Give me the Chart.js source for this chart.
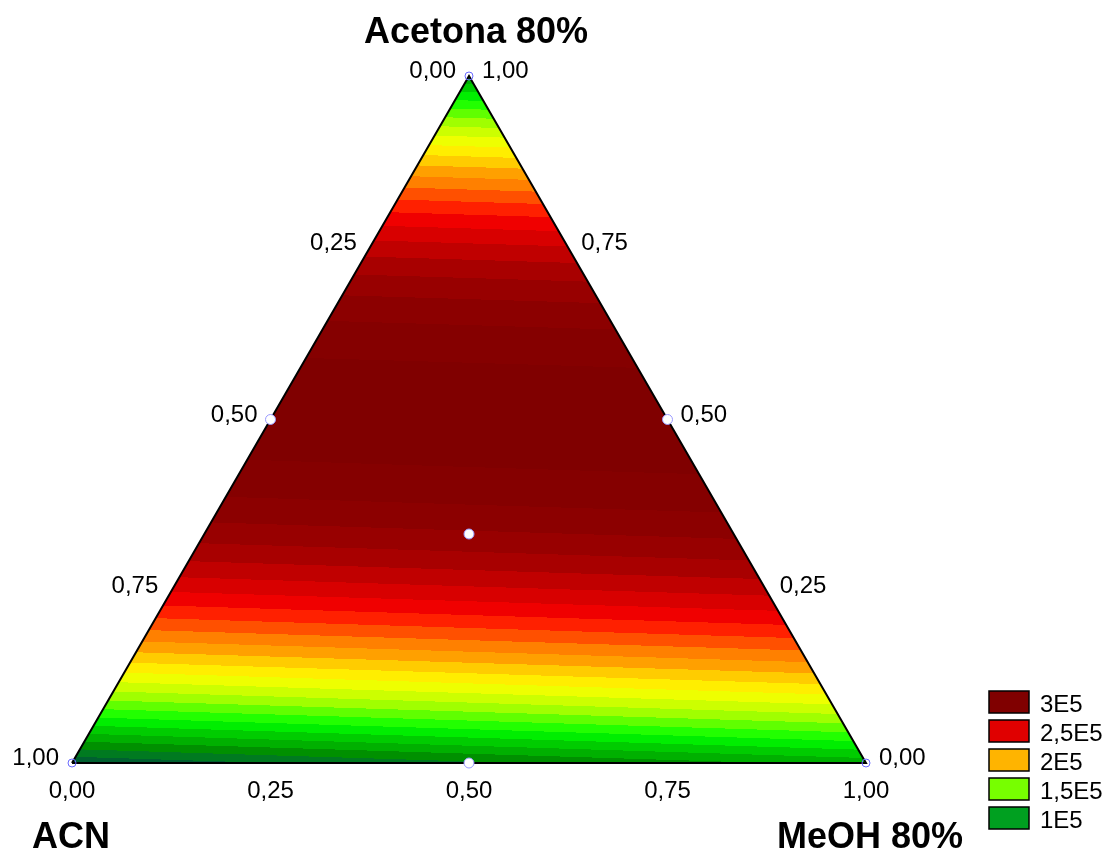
<!DOCTYPE html>
<html>
<head>
<meta charset="utf-8">
<script src="https://cdn.jsdelivr.net/npm/chart.js@4.4.1/dist/chart.umd.min.js"></script>
<style>
  html, body { margin: 0; padding: 0; background: #ffffff; }
  #wrap { width: 1109px; height: 852px; position: relative; }
</style>
</head>
<body>
<div id="wrap"><canvas id="chart" width="1109" height="852"></canvas></div>
<script>
// Mixture components
const titleTop = 'Acetona 80%';
const titleLeft = 'ACN';
const titleRight = 'MeOH 80%';

// Simplex-centroid design: proportion of each component in every run
// (runs: Acetona, ACN, MeOH, Acetona/ACN, Acetona/MeOH, ACN/MeOH, centroid)
const runAcetona = [1, 0, 0, 0.5, 0.5, 0, 1 / 3];
const runACN     = [0, 1, 0, 0.5, 0, 0.5, 1 / 3];
const runMeOH    = [0, 0, 1, 0, 0.5, 0.5, 1 / 3];
// Response measured for each run
const runResponse = [100000, 71600, 103800, 314800, 315100, 88000, 288500];

// Contour bands: lower bound of each band and its fill
const contourLevels = [
  50000, 60000, 70000, 80000, 90000, 100000, 110000, 120000, 130000, 140000,
  150000, 160000, 170000, 180000, 190000, 200000, 210000, 220000, 230000, 240000,
  250000, 260000, 270000, 280000, 290000, 300000, 310000, 320000
];
const contourColors = [
  '#004d38', '#005535', '#006030', '#007a20', '#009000', '#00b000', '#00cc00', '#00ee00', '#22ff00', '#60ff00',
  '#a0ff00', '#ccff00', '#eeff00', '#ffee00', '#ffcc00', '#ffa000', '#ff8000', '#ff5000', '#ff2000', '#f00000',
  '#d80000', '#c00000', '#a80000', '#980000', '#8c0000', '#850000', '#800000', '#7a0000'
];

// Axis ticks (proportion of each component)
const tickValues = [0, 0.25, 0.5, 0.75, 1];

// Legend
const legendLabels = ['3E5', '2,5E5', '2E5', '1,5E5', '1E5'];
const legendColors = ['#800000', '#e00000', '#ffb400', '#77ff00', '#00a020'];

const FONT = '"Liberation Sans", Arial, sans-serif';
const H = Math.sqrt(3) / 2;

// Special cubic Scheffé model through the seven design runs
const y = runResponse;
const coef = {
  a: y[0], c: y[1], m: y[2],
  ac: 4 * y[3] - 2 * y[0] - 2 * y[1],
  am: 4 * y[4] - 2 * y[0] - 2 * y[2],
  cm: 4 * y[5] - 2 * y[1] - 2 * y[2],
  acm: 27 * y[6] - 12 * (y[3] + y[4] + y[5]) + 3 * (y[0] + y[1] + y[2])
};
function model(a, c, m) {
  return coef.a * a + coef.c * c + coef.m * m +
         coef.ac * a * c + coef.am * a * m + coef.cm * c * m +
         coef.acm * a * c * m;
}

// Ternary composition -> plane coordinates (ACN bottom-left, MeOH bottom-right, Acetona top)
function toXY(a, c, m) {
  return { x: m + a / 2, y: a * H };
}

function bandIndex(v) {
  let idx = 0;
  for (let i = 0; i < contourLevels.length; i++) {
    if (v >= contourLevels[i]) idx = i;
  }
  return idx;
}
function hexToRgb(hex) {
  const n = parseInt(hex.slice(1), 16);
  return [(n >> 16) & 255, (n >> 8) & 255, n & 255];
}
function fmt(v) { return v.toFixed(2).replace('.', ','); }

const vertices = [toXY(0, 1, 0), toXY(0, 0, 1), toXY(1, 0, 0)];
const designPoints = runAcetona.map((a, i) => toXY(a, runACN[i], runMeOH[i]));
const isVertex = runAcetona.map((a, i) => Math.max(a, runACN[i], runMeOH[i]) === 1);

function trianglePath(ctx, xs, ys) {
  ctx.beginPath();
  vertices.forEach((p, i) => {
    const px = xs.getPixelForValue(p.x), py = ys.getPixelForValue(p.y);
    if (i === 0) ctx.moveTo(px, py); else ctx.lineTo(px, py);
  });
  ctx.closePath();
}

// Filled contour surface, evaluated pixel by pixel through the scales
const contourPlugin = {
  id: 'contourSurface',
  beforeDatasetsDraw(chart) {
    const { ctx, chartArea, scales } = chart;
    const xs = scales.x, ys = scales.y;
    const left = Math.floor(chartArea.left) - 2, top = Math.floor(chartArea.top) - 2;
    const w = Math.ceil(chartArea.right) - left + 4, h = Math.ceil(chartArea.bottom) - top + 4;
    const off = document.createElement('canvas');
    off.width = w; off.height = h;
    const octx = off.getContext('2d');
    const img = octx.createImageData(w, h);
    const rgb = contourColors.map(hexToRgb);
    for (let py = 0; py < h; py++) {
      const Y = ys.getValueForPixel(top + py + 0.5);
      const a = Math.min(1, Math.max(0, Y / H));
      for (let px = 0; px < w; px++) {
        const X = xs.getValueForPixel(left + px + 0.5);
        let m = X - a / 2;
        let c = 1 - a - m;
        m = Math.max(0, m); c = Math.max(0, c);
        const s = a + c + m;
        const v = model(a / s, c / s, m / s);
        const col = rgb[bandIndex(v)];
        const k = (py * w + px) * 4;
        img.data[k] = col[0]; img.data[k + 1] = col[1]; img.data[k + 2] = col[2]; img.data[k + 3] = 255;
      }
    }
    octx.putImageData(img, 0, 0);
    ctx.save();
    trianglePath(ctx, xs, ys);
    ctx.clip();
    ctx.drawImage(off, left, top);
    ctx.restore();
  }
};

// Tick labels, component names and legend
const labelPlugin = {
  id: 'ternaryLabels',
  afterDraw(chart) {
    const { ctx, scales } = chart;
    const xs = scales.x, ys = scales.y;
    const pix = (a, c, m) => {
      const p = toXY(a, c, m);
      return { x: xs.getPixelForValue(p.x), y: ys.getPixelForValue(p.y) };
    };
    ctx.save();
    ctx.fillStyle = '#000';
    ctx.textBaseline = 'alphabetic';
    ctx.font = '24px ' + FONT;

    // ACN along the left edge
    ctx.textAlign = 'right';
    tickValues.forEach(t => {
      const p = pix(1 - t, t, 0);
      ctx.fillText(fmt(t), p.x - 13, p.y + 2);
    });
    // Acetona along the right edge
    ctx.textAlign = 'left';
    tickValues.forEach(t => {
      const p = pix(t, 0, 1 - t);
      ctx.fillText(fmt(t), p.x + 13, p.y + 2);
    });
    // MeOH along the base
    ctx.textAlign = 'center';
    tickValues.forEach(t => {
      const p = pix(0, 1 - t, t);
      ctx.fillText(fmt(t), p.x, p.y + 35);
    });

    // Component names
    ctx.font = 'bold 36px ' + FONT;
    const pa = pix(1, 0, 0), pc = pix(0, 1, 0), pm = pix(0, 0, 1);
    ctx.textAlign = 'center';
    ctx.fillText(titleTop, pa.x + 7, pa.y - 33);
    ctx.fillText(titleLeft, pc.x - 1, pc.y + 85);
    ctx.fillText(titleRight, pm.x + 4, pm.y + 85);

    // Legend
    ctx.font = '24px ' + FONT;
    ctx.textAlign = 'left';
    legendLabels.forEach((lab, i) => {
      const bx = 989, by = 691 + i * 29;
      ctx.fillStyle = legendColors[i];
      ctx.fillRect(bx, by, 40, 22);
      ctx.lineWidth = 1.5;
      ctx.strokeStyle = '#000';
      ctx.strokeRect(bx, by, 40, 22);
      ctx.fillStyle = '#000';
      ctx.fillText(lab, 1040, by + 21);
    });
    ctx.restore();
  }
};

new Chart(document.getElementById('chart'), {
  type: 'scatter',
  data: {
    datasets: [
      {
        label: 'runs',
        data: designPoints,
        order: 0,
        clip: false,
        pointRadius: designPoints.map((_, i) => isVertex[i] ? 4 : 5),
        pointBackgroundColor: designPoints.map((_, i) => isVertex[i] ? 'rgba(255,255,255,0)' : '#ffffff'),
        pointBorderColor: designPoints.map((_, i) => isVertex[i] ? '#6a6aff' : '#9a9aff'),
        pointBorderWidth: 1
      },
      {
        label: 'frame',
        type: 'line',
        data: [...vertices, vertices[0]],
        order: 1,
        clip: false,
        showLine: true,
        fill: false,
        borderColor: '#000000',
        borderWidth: 2,
        pointRadius: 0,
        tension: 0
      }
    ]
  },
  options: {
    responsive: false,
    animation: false,
    events: [],
    layout: { padding: { left: 72, right: 243, top: 76, bottom: 89 } },
    scales: {
      x: { type: 'linear', min: 0, max: 1, display: false },
      y: { type: 'linear', min: 0, max: H, display: false }
    },
    plugins: {
      legend: { display: false },
      tooltip: { enabled: false },
      title: { display: false }
    }
  },
  plugins: [contourPlugin, labelPlugin]
});
</script>
</body>
</html>
